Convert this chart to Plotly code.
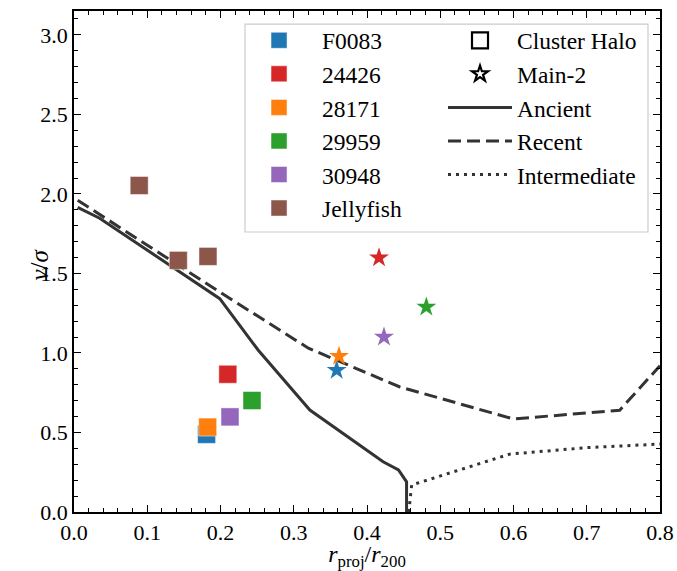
import plotly.graph_objects as go

# ---------------- data ----------------
galaxies = ["F0083", "24426", "28171", "29959", "30948"]
halo_r = [0.181, 0.210, 0.1825, 0.243, 0.213]
halo_v = [0.488, 0.866, 0.534, 0.701, 0.598]
main2_r = [0.3586, 0.4164, 0.3618, 0.481, 0.4232]
main2_v = [0.891, 1.599, 0.979, 1.289, 1.100]
jelly_label = "Jellyfish"
jelly_r = [0.089, 0.1424, 0.1829]
jelly_v = [2.053, 1.582, 1.607]

ancient_r = [0.005, 0.035, 0.199, 0.2516, 0.322, 0.422, 0.443, 0.454, 0.454]
ancient_v = [1.915, 1.847, 1.341, 1.017, 0.641, 0.316, 0.264, 0.19, 0.0]
recent_r = [0.005, 0.20, 0.32, 0.445, 0.60, 0.745, 0.80]
recent_v = [1.96, 1.38, 1.03, 0.786, 0.585, 0.64, 0.92]
inter_r = [0.457, 0.461, 0.595, 0.70, 0.80]
inter_v = [0.0, 0.17, 0.364, 0.405, 0.427]

x_ticks = [0.0, 0.1, 0.2, 0.3, 0.4, 0.5, 0.6, 0.7, 0.8]
y_ticks = [0.0, 0.5, 1.0, 1.5, 2.0, 2.5, 3.0]

# ---------------- style ----------------
colors = ["#1f77b4", "#d62728", "#ff7f0e", "#2ca02c", "#9467bd"]
jelly_color = "#8c564b"
line_color = "#333333"
FONT = "Liberation Serif"

fig = go.Figure()

# lines
fig.add_trace(go.Scatter(x=ancient_r, y=ancient_v, mode="lines", name="Ancient",
                         line=dict(color=line_color, width=3), legend="legend2", legendrank=3))
fig.add_trace(go.Scatter(x=recent_r, y=recent_v, mode="lines", name="Recent",
                         line=dict(color=line_color, width=3, dash="13px,6px"), legend="legend2", legendrank=4))
fig.add_trace(go.Scatter(x=inter_r, y=inter_v, mode="lines", name="Intermediate",
                         line=dict(color=line_color, width=3, dash="3px,5px"), legend="legend2", legendrank=5))

# cluster halo squares
for i, g in enumerate(galaxies):
    fig.add_trace(go.Scatter(x=[halo_r[i]], y=[halo_v[i]], mode="markers", name=g,
                             marker=dict(symbol="square", size=18, color=colors[i],
                                         line=dict(width=0.8, color="rgba(255,255,255,0.6)")),
                             legend="legend", legendrank=i + 1))
fig.add_trace(go.Scatter(x=jelly_r, y=jelly_v, mode="markers", name=jelly_label,
                         marker=dict(symbol="square", size=18, color=jelly_color,
                                     line=dict(width=0.8, color="rgba(255,255,255,0.6)")),
                         legend="legend", legendrank=6))
# main-2 stars
for i, g in enumerate(galaxies):
    fig.add_trace(go.Scatter(x=[main2_r[i]], y=[main2_v[i]], mode="markers", name=g,
                             marker=dict(symbol="star", size=15, color=colors[i]),
                             showlegend=False))

# legend-only symbol entries
fig.add_trace(go.Scatter(x=[None], y=[None], mode="markers", name="Cluster Halo",
                         marker=dict(symbol="square-open", size=16, color="black",
                                     line=dict(width=2.2, color="black")),
                         legend="legend2", legendrank=1))
fig.add_trace(go.Scatter(x=[None], y=[None], mode="markers", name="Main-2",
                         marker=dict(symbol="star-open", size=12, color="black",
                                     line=dict(width=2.2, color="black")),
                         legend="legend2", legendrank=2))

axis_common = dict(
    showline=True, linecolor="black", linewidth=1.5, mirror="allticks",
    ticks="inside", ticklen=7, tickwidth=1.3, tickcolor="black",
    showgrid=False, zeroline=False, automargin=False,
    tickfont=dict(family=FONT, size=22, color="black"),
)

fig.update_xaxes(range=[0, 0.8], tickvals=x_ticks, ticktext=[f"{v:.1f}" for v in x_ticks],
                 minor=dict(dtick=0.02, ticks="inside", ticklen=4, tickwidth=1, tickcolor="black"),
                 title=dict(text="<i>r</i><sub>proj</sub>/<i>r</i><sub>200</sub>",
                            font=dict(family=FONT, size=24, color="black")),
                 **axis_common)
fig.update_yaxes(range=[0, 3.15], tickvals=y_ticks, ticktext=[f"{v:.1f}" for v in y_ticks],
                 minor=dict(dtick=0.1, ticks="inside", ticklen=4, tickwidth=1, tickcolor="black"),
                 **axis_common)

# y-axis title
fig.add_annotation(text="<i>v</i>/<i>σ</i>", xref="paper", yref="paper",
                   x=-0.0870, y=0.493, textangle=-90, showarrow=False,
                   font=dict(family=FONT, size=25, color="black"))

# legend frame (paper coords)
fx0, fx1, fy0, fy1 = 0.2918, 0.9795, 0.5589, 0.974
fig.add_shape(type="rect", xref="paper", yref="paper", x0=fx0, x1=fx1, y0=fy0, y1=fy1,
              fillcolor="rgba(255,255,255,0.8)", line=dict(color="#cccccc", width=1.2),
              layer="above")

leg_font = dict(family=FONT, size=23.5, color="black")
fig.update_layout(
    width=677, height=571,
    margin=dict(l=74, r=17, t=11, b=59),
    paper_bgcolor="white", plot_bgcolor="white",
    font=dict(family=FONT, color="black"),
    legend=dict(x=0.2765, y=0.985, xanchor="left", yanchor="top", bgcolor="rgba(0,0,0,0)",
                borderwidth=0, font=leg_font, itemwidth=76, traceorder="normal"),
    legend2=dict(x=0.6297, y=0.985, xanchor="left", yanchor="top", bgcolor="rgba(0,0,0,0)",
                 borderwidth=0, font=leg_font, itemwidth=64, traceorder="normal"),
)

fig.write_html("out.html")
